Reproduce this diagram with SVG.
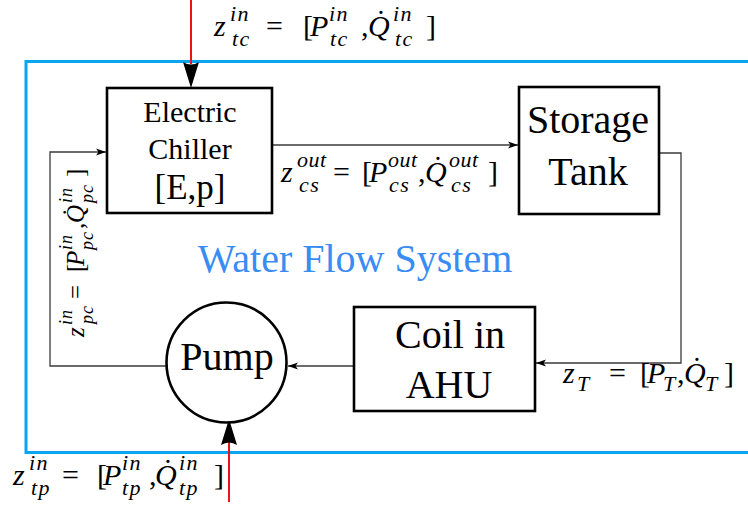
<svg xmlns="http://www.w3.org/2000/svg" width="748" height="506" viewBox="0 0 748 506">
<style>
.t{font-family:"Liberation Serif",serif;fill:#000;text-anchor:middle}
.m{font-family:"Liberation Serif",serif;font-style:italic;font-size:30px;fill:#000}
.s{font-size:22px;letter-spacing:1.5px}
.r{font-size:18px;letter-spacing:1px}
.u{font-style:normal}
.box{fill:#fff;stroke:#000;stroke-width:2.6}
.conn{fill:none;stroke:#3a3a3a;stroke-width:1.3}
.red{fill:none;stroke:#e8141b;stroke-width:2}
.frame{fill:none;stroke:#0aa5ef;stroke-width:3}
</style>
<defs>
<marker id="a" markerWidth="11" markerHeight="8" refX="10" refY="4" orient="auto" markerUnits="userSpaceOnUse">
<path d="M0,0.5 L10,4 L0,7.5 L2.5,4 Z" fill="#000"/>
</marker>
</defs>
<rect width="748" height="506" fill="#fff"/>
<rect id="frame" class="frame" x="26" y="61.5" width="740" height="391"/>
<text id="system-label" class="t" x="355" y="272" style="font-size:40px;fill:#3a8cf5">Water Flow System</text>

<g id="connectors">
<path class="conn" d="M272,145 H518" marker-end="url(#a)"/>
<path class="conn" d="M659,153 H681 V363 H536" marker-end="url(#a)"/>
<path class="conn" d="M354,366 H288" marker-end="url(#a)"/>
<path class="conn" d="M166,366 H50 V152 H106" marker-end="url(#a)"/>
<path class="red" d="M191,0 V64"/>
<path d="M191,88 L183,62 Q191,67 199,62 Z" fill="#000"/>
<path class="red" d="M229,502 V442"/>
<path d="M229,419 L221,445 Q229,440 237,445 Z" fill="#000"/>
</g>

<g id="chiller">
<rect class="box" x="107" y="88" width="165" height="125"/>
<text class="t" x="190" y="122" style="font-size:30px">Electric</text>
<text class="t" x="190" y="159" style="font-size:30px">Chiller</text>
<text class="t" x="190" y="199" style="font-size:35px">[E,p]</text>
</g>

<g id="storage">
<rect class="box" x="519" y="87" width="140" height="127"/>
<text class="t" x="588" y="133" style="font-size:40px">Storage</text>
<text class="t" x="588" y="185" style="font-size:40px">Tank</text>
</g>

<g id="coil">
<rect class="box" x="354" y="307" width="181" height="104"/>
<text class="t" x="450" y="348" style="font-size:40px">Coil in</text>
<text class="t" x="449" y="398" style="font-size:40px">AHU</text>
</g>

<g id="pump">
<circle class="box" cx="226.5" cy="362.5" r="60"/>
<text class="t" x="227" y="370" style="font-size:40px">Pump</text>
</g>

<g id="label-tc">
<text class="m"><tspan x="214" y="36">z</tspan><tspan class="s" x="230" y="21">in</tspan><tspan class="s" x="232" y="46">tc</tspan><tspan class="u" x="266" y="36">=</tspan><tspan class="u" x="303" y="36">[</tspan><tspan x="310" y="36">P</tspan><tspan class="s" x="329" y="21">in</tspan><tspan class="s" x="330" y="46">tc</tspan><tspan class="u" x="361" y="36">,</tspan><tspan x="368" y="36">Q&#x307;</tspan><tspan class="s" x="393" y="21">in</tspan><tspan class="s" x="395" y="46">tc</tspan><tspan class="u" x="426" y="36">]</tspan></text>
</g>

<g id="label-cs">
<text class="m"><tspan x="281" y="182">z</tspan><tspan class="s" x="297" y="167" style="letter-spacing:0.5px">out</tspan><tspan class="s" x="299" y="192">cs</tspan><tspan class="u" x="333" y="182">=</tspan><tspan class="u" x="362" y="182">[</tspan><tspan x="369" y="182">P</tspan><tspan class="s" x="388" y="167" style="letter-spacing:0.5px">out</tspan><tspan class="s" x="389" y="192">cs</tspan><tspan class="u" x="418" y="182">,</tspan><tspan x="425" y="182">Q&#x307;</tspan><tspan class="s" x="449" y="167" style="letter-spacing:0.5px">out</tspan><tspan class="s" x="451" y="192">cs</tspan><tspan class="u" x="488" y="182">]</tspan></text>
</g>

<g id="label-T">
<text class="m"><tspan x="563" y="383">z</tspan><tspan class="s" x="577" y="391">T</tspan><tspan class="u" x="609" y="383">=</tspan><tspan class="u" x="640" y="383">[</tspan><tspan x="647" y="383">P</tspan><tspan class="s" x="663" y="391">T</tspan><tspan class="u" x="677" y="383">,</tspan><tspan x="684" y="383">Q&#x307;</tspan><tspan class="s" x="705" y="391">T</tspan><tspan class="u" x="724" y="383">]</tspan></text>
</g>

<g id="label-tp">
<text class="m"><tspan x="13" y="485">z</tspan><tspan class="s" x="29" y="470">in</tspan><tspan class="s" x="31" y="495">tp</tspan><tspan class="u" x="62" y="485">=</tspan><tspan class="u" x="97" y="485">[</tspan><tspan x="103" y="485">P</tspan><tspan class="s" x="122" y="470">in</tspan><tspan class="s" x="122" y="495">tp</tspan><tspan class="u" x="149" y="485">,</tspan><tspan x="155" y="485">Q&#x307;</tspan><tspan class="s" x="179" y="470">in</tspan><tspan class="s" x="179" y="495">tp</tspan><tspan class="u" x="214" y="485">]</tspan></text>
</g>

<g id="label-pc" transform="translate(84,337) rotate(-90)">
<text class="m" style="font-size:25px"><tspan x="0" y="0">z</tspan><tspan class="r" x="12" y="-12">in</tspan><tspan class="r" x="13" y="9">pc</tspan><tspan class="u" x="38" y="0">=</tspan><tspan class="u" x="65" y="0">[</tspan><tspan x="71" y="0">P</tspan><tspan class="r" x="87" y="-12">in</tspan><tspan class="r" x="87" y="9">pc</tspan><tspan class="u" x="108" y="0">,</tspan><tspan x="114" y="0">Q&#x307;</tspan><tspan class="r" x="134" y="-12">in</tspan><tspan class="r" x="134" y="9">pc</tspan><tspan class="u" x="160" y="0">]</tspan></text>
</g>
</svg>
